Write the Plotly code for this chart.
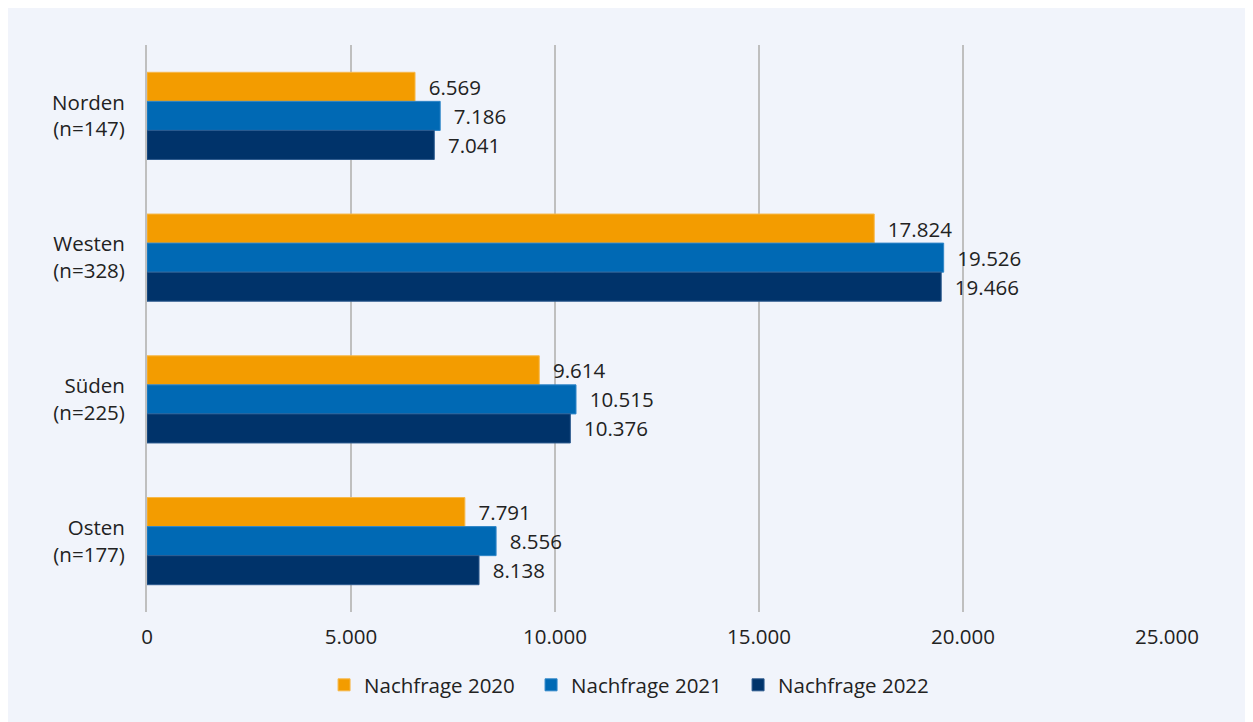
import plotly.graph_objects as go

# regions with sample size
regions = ["Norden<br>(n=147)", "Westen<br>(n=328)", "Süden<br>(n=225)", "Osten<br>(n=177)"]
series = ["Nachfrage 2020", "Nachfrage 2021", "Nachfrage 2022"]
vals_2020 = [6569, 17824, 9614, 7791]
vals_2021 = [7186, 19526, 10515, 8556]
vals_2022 = [7041, 19466, 10376, 8138]
colors = ["#F39C00", "#0069B4", "#00336A"]
edges = ["#F7B84A", "#2F86C8", "#2C5A8E"]

# page body adds an 8px offset, so the figure is a bit smaller than the window
W, H = 1245, 714
L, R, T, B = 139, 86, 37, 110
ph = H - T - B

fig = go.Figure()
for name, vals, col, ec in zip(series, [vals_2020, vals_2021, vals_2022], colors, edges):
    fig.add_trace(go.Bar(
        y=regions, x=vals, name=name, orientation="h",
        marker=dict(color=col, line=dict(color=ec, width=1)),
        text=vals, texttemplate="\u00a0\u00a0%{x:,.0f}", textposition="outside",
        textfont=dict(size=20.5, color="#222222"), cliponaxis=False,
    ))

fig.update_layout(
    width=W, height=H,
    margin=dict(l=L, r=R, t=T, b=B, pad=0),
    barmode="group", bargap=0.385, bargroupgap=0,
    paper_bgcolor="#F1F4FB", plot_bgcolor="rgba(0,0,0,0)",
    separators=",.",
    font=dict(family="Open Sans, Noto Sans, sans-serif", size=20.5, color="#222222"),
    xaxis=dict(range=[0, 25000], dtick=5000, tickformat=",.0f",
               showgrid=True, gridcolor="#BFBFBF", gridwidth=2,
               zeroline=False, showline=False, ticks="",
               ticklabelstandoff=10, tickfont=dict(size=20.5)),
    yaxis=dict(autorange="reversed", showgrid=False, showline=True,
               linecolor="#BFBFBF", linewidth=2, ticks="",
               ticklabelstandoff=16, tickfont=dict(size=20.5)),
    legend=dict(orientation="h", x=0.478, xanchor="center", y=-73 / ph, yanchor="middle",
                font=dict(size=20.5), bgcolor="rgba(0,0,0,0)", traceorder="normal",
                itemwidth=30, entrywidth=162, entrywidthmode="pixels"),
    showlegend=True,
)

fig.write_html("out.html")
